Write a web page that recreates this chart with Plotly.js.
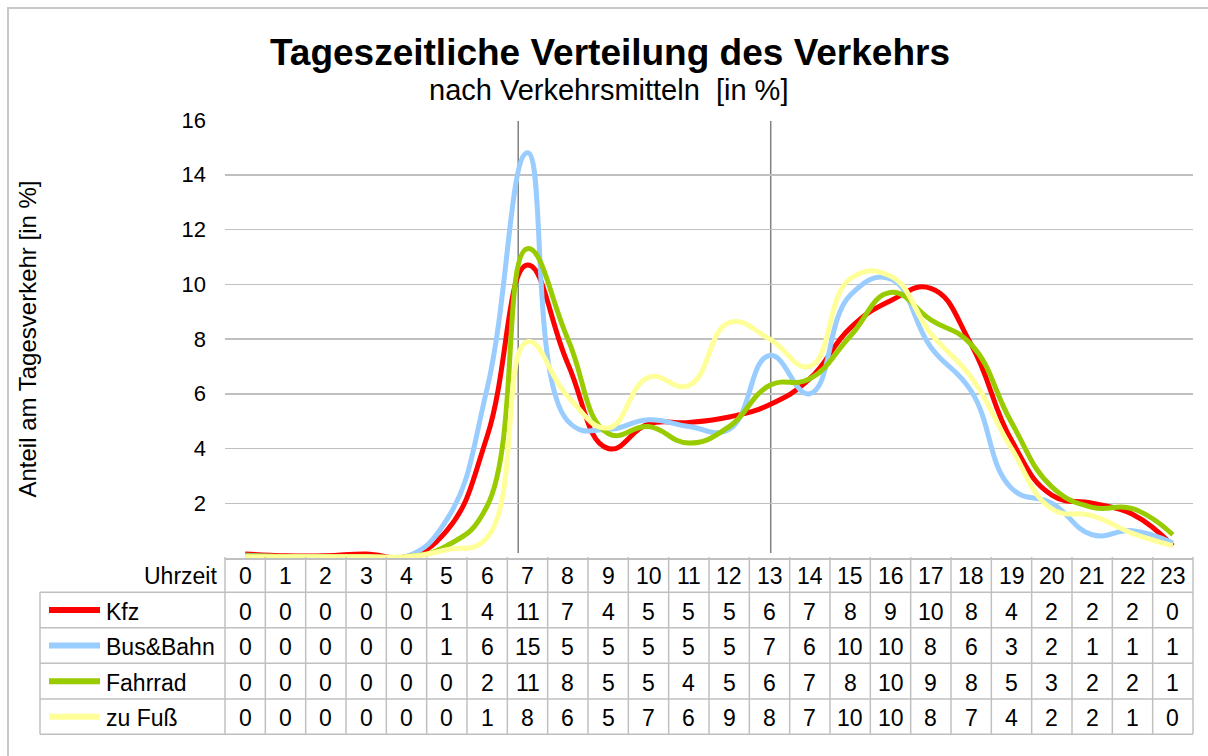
<!DOCTYPE html>
<html>
<head>
<meta charset="utf-8">
<script src="https://cdn.plot.ly/plotly-3.0.1.min.js"></script>
<style>
html,body{margin:0;padding:0;background:#ffffff;}
#chart{width:1208px;height:756px;}
</style>
</head>
<body>
<div id="chart"></div>
<script>
// ---------- data ----------
const hours = [0,1,2,3,4,5,6,7,8,9,10,11,12,13,14,15,16,17,18,19,20,21,22,23];
const seriesNames = ['Kfz', 'Bus&Bahn', 'Fahrrad', 'zu Fuß'];
const kfz     = [0.15,0.08,0.08,0.15,0.05,1.0,4.45,10.7,7.1,4.0,4.9,4.95,5.15,5.6,6.55,8.4,9.4,9.85,7.8,4.3,2.3,2.0,1.6,0.45];
const busBahn = [0.1,0.05,0.05,0.05,0.05,1.4,6.2,14.8,5.0,4.7,5.05,4.8,4.7,7.4,6.0,9.6,10.2,7.7,6.1,2.55,2.0,0.85,1.0,0.55];
const fahrrad = [0.08,0.05,0.05,0.05,0.05,0.45,1.9,11.3,8.0,4.55,4.8,4.2,4.8,6.3,6.55,8.1,9.7,8.7,7.8,4.95,2.6,1.85,1.8,0.85];
const zuFuss  = [0.05,0.05,0.05,0.05,0.05,0.3,0.75,7.9,5.9,4.75,6.6,6.3,8.6,8.0,7.0,10.2,10.3,8.2,6.6,4.0,1.8,1.55,0.9,0.45];
const yTicks = [2,4,6,8,10,12,14,16];
const markerHours = [6.77, 13.03];
const headerLabel = 'Uhrzeit';
const chartTitle = 'Tageszeitliche Verteilung des Verkehrs';
const chartSubtitle = 'nach Verkehrsmitteln  [in %]';
const yTitle = 'Anteil am Tagesverkehr [in %]';

// ---------- styling / layout helpers ----------
const seriesValues = [kfz, busBahn, fahrrad, zuFuss];
const colors = ['#FF0000', '#99CCFF', '#99CC00', '#FFFF99'];
const FONT = 'Liberation Sans, Arial, sans-serif';
const W = 1208, H = 756;
const L = 225, R = 1193, T = 120, B = 558;
const px = x => (x - L) / (R - L);
const py = y => (B - y) / (B - T);
const gridCol = '#C0C0C0';
const esc = s => s.replace(/&/g, '&amp;');

const traces = seriesValues.map((vals, i) => ({
  type: 'scatter', mode: 'lines', name: seriesNames[i],
  x: hours, y: vals,
  line: {color: colors[i], width: 5, shape: 'spline', smoothing: 1.3},
  hoverinfo: 'x+y+name'
}));

const shapes = [];
const annotations = [];

// vertical marker lines
markerHours.forEach(h => shapes.push({
  type: 'line', xref: 'x', yref: 'paper', x0: h, x1: h, y0: py(553), y1: py(121),
  line: {color: '#808080', width: 1.5}, layer: 'below'
}));

// table geometry (pixel rows)
const rowEdges = [557, 592.3, 627.7, 663.3, 699, 734.3];
const labelLeft = 40;

// column lines
for (let k = 0; k <= hours.length; k++) {
  shapes.push({type: 'line', xref: 'paper', yref: 'paper',
    x0: k / hours.length, x1: k / hours.length, y0: py(rowEdges[0]), y1: py(rowEdges[5]),
    line: {color: gridCol, width: 1.5}});
}
// row lines
for (let r = 1; r < rowEdges.length; r++) {
  shapes.push({type: 'line', xref: 'paper', yref: 'paper',
    x0: px(labelLeft), x1: 1, y0: py(rowEdges[r]), y1: py(rowEdges[r]),
    line: {color: gridCol, width: 1.5}});
}
// left edge of label column
shapes.push({type: 'line', xref: 'paper', yref: 'paper',
  x0: px(labelLeft), x1: px(labelLeft), y0: py(rowEdges[1]), y1: py(rowEdges[5]),
  line: {color: gridCol, width: 1.5}});

// outer chart border
shapes.push({type: 'rect', xref: 'paper', yref: 'paper',
  x0: px(8), x1: px(1230), y0: py(8), y1: py(780),
  line: {color: '#C8C8C8', width: 2}, fillcolor: 'rgba(0,0,0,0)'});

const cellFont = {family: FONT, size: 23, color: '#000000'};
const rowCenter = r => py((rowEdges[r] + rowEdges[r + 1]) / 2 + 1.5);

// header row
annotations.push({xref: 'paper', yref: 'paper', x: px(219), y: rowCenter(0),
  xanchor: 'right', yanchor: 'middle', text: headerLabel, showarrow: false, font: cellFont});
hours.forEach(h => annotations.push({xref: 'x', yref: 'paper', x: h, y: rowCenter(0),
  xanchor: 'center', yanchor: 'middle', text: String(h), showarrow: false, font: cellFont}));

// series rows
seriesValues.forEach((vals, i) => {
  const yc = rowCenter(i + 1);
  shapes.push({type: 'line', xref: 'paper', yref: 'paper',
    x0: px(49), x1: px(100), y0: py((rowEdges[i + 1] + rowEdges[i + 2]) / 2), y1: py((rowEdges[i + 1] + rowEdges[i + 2]) / 2),
    line: {color: colors[i], width: 6}});
  annotations.push({xref: 'paper', yref: 'paper', x: px(104), y: yc,
    xanchor: 'left', yanchor: 'middle', text: esc(seriesNames[i]), showarrow: false, font: cellFont});
  vals.forEach((v, h) => annotations.push({xref: 'x', yref: 'paper', x: hours[h], y: yc,
    xanchor: 'center', yanchor: 'middle', text: String(Math.round(v)), showarrow: false, font: cellFont}));
});

// subtitle
annotations.push({xref: 'paper', yref: 'paper', x: px(608), y: py(90),
  xanchor: 'center', yanchor: 'middle', text: chartSubtitle, showarrow: false,
  font: {family: FONT, size: 29, color: '#000000'}});

const layout = {
  width: W, height: H,
  margin: {l: L, r: W - R, t: T, b: H - B, pad: 0},
  paper_bgcolor: '#ffffff', plot_bgcolor: '#ffffff',
  showlegend: false,
  font: {family: FONT, color: '#000000'},
  title: {text: '<b>' + chartTitle + '</b>', font: {family: FONT, size: 37, color: '#000000'},
    xref: 'container', yref: 'container', x: 610 / W, xanchor: 'center', y: 1 - 52 / H, yanchor: 'middle'},
  xaxis: {range: [-0.5, 23.5], showticklabels: false, showgrid: false, zeroline: false,
    showline: true, linecolor: gridCol, linewidth: 1.5, ticks: '', fixedrange: true},
  yaxis: {range: [0, 16], tickvals: yTicks, ticktext: yTicks.map(String),
    showgrid: true, gridcolor: gridCol, gridwidth: 1.5, zeroline: false, showline: false,
    ticks: '', ticklabelstandoff: 18, tickfont: {family: FONT, size: 22, color: '#000000'},
    title: {text: yTitle, font: {family: FONT, size: 24, color: '#000000'}, standoff: 138},
    fixedrange: true},
  shapes: shapes,
  annotations: annotations
};

Plotly.newPlot('chart', traces, layout, {displayModeBar: false, staticPlot: true});
</script>
</body>
</html>
